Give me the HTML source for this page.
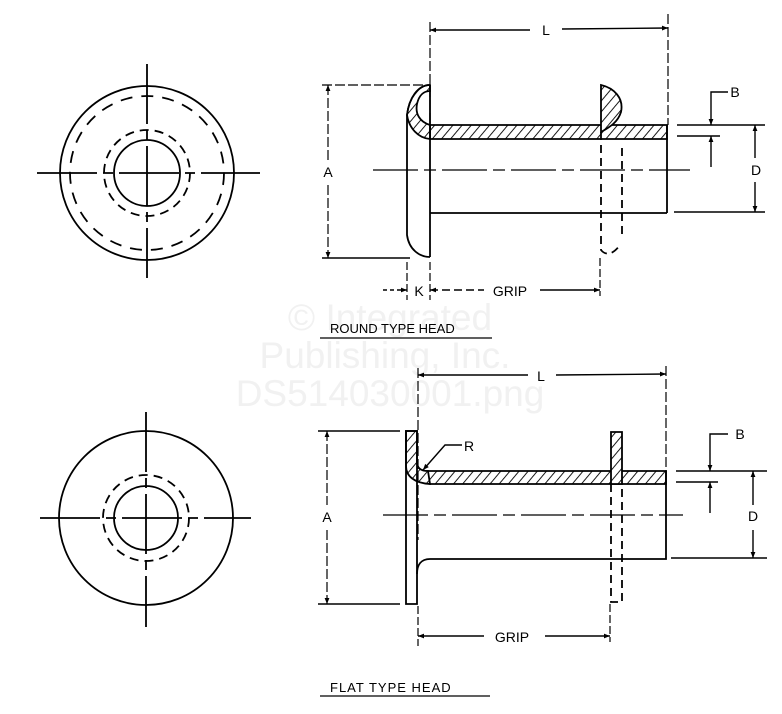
<!DOCTYPE html>
<html><head><style>
html,body{margin:0;padding:0;background:#fff;}
svg{display:block;}
text{font-family:"Liberation Sans",sans-serif;fill:#000;}
.wm{fill:#f1f1f1;font-size:37px;}
</style></head><body>
<svg width="782" height="714" viewBox="0 0 782 714" xmlns="http://www.w3.org/2000/svg">
<defs>
<pattern id="h" width="7" height="7" patternUnits="userSpaceOnUse" patternTransform="rotate(40)">
<rect width="7" height="7" fill="#fff"/><line x1="0" y1="0" x2="0" y2="7" stroke="#000" stroke-width="1.8"/>
</pattern>
<marker id="a" viewBox="0 0 10 10" refX="10" refY="5" markerWidth="9" markerHeight="6" orient="auto-start-reverse" markerUnits="userSpaceOnUse"><path d="M0,1 L10,5 L0,9 z" fill="#000"/></marker>
</defs>
<text class="wm" x="390" y="330" text-anchor="middle">© Integrated</text>
<text class="wm" x="385" y="368" text-anchor="middle">Publishing, Inc.</text>
<text class="wm" x="390" y="406" text-anchor="middle">DS514030001.png</text>

<g fill="none" stroke="#000" stroke-width="1.8">
<!-- top-left circle view -->
<circle cx="147" cy="173" r="87"/>
<circle cx="147" cy="173" r="77" stroke-dasharray="12,9"/>
<circle cx="147" cy="173" r="43" stroke-dasharray="9,6"/>
<circle cx="147" cy="173" r="33"/>
<line x1="37" y1="173" x2="260" y2="173" stroke-dasharray="60,6,10,6"/>
<line x1="147" y1="64" x2="147" y2="278" stroke-dasharray="60,6,10,6"/>
<!-- bottom-left circle view -->
<circle cx="146" cy="518" r="87"/>
<circle cx="146" cy="518" r="43" stroke-dasharray="9,6"/>
<circle cx="146" cy="518" r="32"/>
<line x1="40" y1="518" x2="251" y2="518" stroke-dasharray="60,6,10,6"/>
<line x1="146" y1="412" x2="146" y2="627" stroke-dasharray="60,6,10,6"/>

<!-- ROUND TYPE HEAD -->
<path d="M430,125 L667,125 L667,139 L430,139 Z" fill="url(#h)"/>
<path d="M430,85 C418,85 409,98 407,115 C409,128 418,138 430,139 L430,125 C420,122 415,114 417,104 C419,95 424,91 430,91 Z" fill="url(#h)"/>
<path d="M430,85 C418,85 409,98 407,115 L407,235 C409,250 420,257 430,257"/>
<line x1="430" y1="85" x2="430" y2="257"/>
<line x1="430" y1="213" x2="667" y2="213"/>
<line x1="667" y1="125" x2="667" y2="213"/>
<path d="M601,85 C614,88 624,98 621,112 C618,122 610,127 601,132 Z" fill="url(#h)"/>
<path d="M601,132 L601,250 C605,255 612,256 620,245" stroke-dasharray="8,5"/>
<line x1="622" y1="148" x2="622" y2="238" stroke-dasharray="8,5"/>
<line x1="373" y1="170" x2="690" y2="170" stroke-width="1.2" stroke-dasharray="45,6,12,6"/>
<!-- L -->
<line x1="430" y1="22" x2="430" y2="140" stroke-width="1.2" stroke-dasharray="10,3"/>
<line x1="668" y1="14" x2="668" y2="125" stroke-width="1.2" stroke-dasharray="10,3"/>
<line x1="430" y1="30" x2="530" y2="30" marker-start="url(#a)" stroke-width="1.4"/>
<line x1="562" y1="29" x2="668" y2="28" marker-end="url(#a)" stroke-width="1.4"/>
<!-- A -->
<line x1="322" y1="85" x2="430" y2="85" stroke-width="1.2" stroke-dasharray="10,3"/>
<line x1="322" y1="258" x2="410" y2="258" stroke-width="1.4"/>
<line x1="328" y1="85" x2="328" y2="160" marker-start="url(#a)" stroke-width="1.2" stroke-dasharray="10,3"/>
<line x1="328" y1="185" x2="328" y2="258" marker-end="url(#a)" stroke-width="1.2" stroke-dasharray="10,3"/>
<!-- D -->
<line x1="677" y1="125" x2="765" y2="125" stroke-width="1.4"/>
<line x1="674" y1="212" x2="765" y2="212" stroke-width="1.4"/>
<line x1="755" y1="125" x2="755" y2="158" marker-start="url(#a)" stroke-width="1.4"/>
<line x1="755" y1="182" x2="755" y2="212" marker-end="url(#a)" stroke-width="1.4"/>
<!-- B -->
<polyline points="728,92 711,92 711,125" marker-end="url(#a)" stroke-width="1.4"/>
<line x1="677" y1="136" x2="720" y2="136" stroke-width="1.4"/>
<line x1="711" y1="167" x2="711" y2="136" marker-end="url(#a)" stroke-width="1.4"/>
<!-- K GRIP -->
<line x1="407" y1="262" x2="407" y2="300" stroke-width="1.2" stroke-dasharray="8,3"/>
<line x1="430" y1="262" x2="430" y2="300" stroke-width="1.2" stroke-dasharray="8,3"/>
<line x1="600" y1="258" x2="600" y2="296" stroke-width="1.2" stroke-dasharray="8,3"/>
<line x1="383" y1="290" x2="407" y2="290" marker-end="url(#a)" stroke-width="1.4" stroke-dasharray="4,3"/>
<line x1="430" y1="290" x2="484" y2="290" marker-start="url(#a)" stroke-width="1.4" stroke-dasharray="8,4"/>
<line x1="540" y1="290" x2="600" y2="290" marker-end="url(#a)" stroke-width="1.4"/>
<line x1="320" y1="338" x2="492" y2="338" stroke-width="1.2"/>

<!-- FLAT TYPE HEAD -->
<path d="M417,471 L666,471 L666,484 L430,484 C422,483 417,478 417,472 Z" fill="url(#h)"/>
<path d="M406,431 L417,431 L417,462 C417,468 421,471 428,471 L430,484 C414,483 406,476 406,466 Z" fill="url(#h)"/>
<path d="M406,431 L417,431 L417,604 L406,604 Z"/>
<path d="M417,574 C417,565 421,559 430,559 L666,559 L666,471"/>
<path d="M611,432 L622,432 L622,484 L611,484 Z" fill="url(#h)"/>
<path d="M611,484 L611,602 L622,602 L622,484" stroke-dasharray="8,5"/>
<line x1="383" y1="515" x2="683" y2="515" stroke-width="1.2" stroke-dasharray="45,6,12,6"/>
<!-- L -->
<line x1="418" y1="368" x2="418" y2="540" stroke-width="1.2" stroke-dasharray="10,3"/>
<line x1="666" y1="366" x2="666" y2="478" stroke-width="1.2" stroke-dasharray="10,3"/>
<line x1="418" y1="375" x2="528" y2="375" marker-start="url(#a)" stroke-width="1.4"/>
<line x1="556" y1="375" x2="666" y2="374" marker-end="url(#a)" stroke-width="1.4"/>
<!-- A -->
<line x1="318" y1="431" x2="400" y2="431" stroke-width="1.4"/>
<line x1="318" y1="604" x2="400" y2="604" stroke-width="1.4"/>
<line x1="327" y1="431" x2="327" y2="505" marker-start="url(#a)" stroke-width="1.2" stroke-dasharray="10,3"/>
<line x1="327" y1="530" x2="327" y2="604" marker-end="url(#a)" stroke-width="1.2" stroke-dasharray="10,3"/>
<!-- D -->
<line x1="676" y1="471" x2="767" y2="471" stroke-width="1.4"/>
<line x1="671" y1="558" x2="767" y2="558" stroke-width="1.4"/>
<line x1="753" y1="471" x2="753" y2="505" marker-start="url(#a)" stroke-width="1.4"/>
<line x1="753" y1="530" x2="753" y2="558" marker-end="url(#a)" stroke-width="1.4"/>
<!-- B -->
<polyline points="728,434 710,434 710,471" marker-end="url(#a)" stroke-width="1.4"/>
<line x1="676" y1="482" x2="718" y2="482" stroke-width="1.4"/>
<line x1="710" y1="513" x2="710" y2="482" marker-end="url(#a)" stroke-width="1.4"/>
<!-- R -->
<polyline points="462,445 445,445 423,470" marker-end="url(#a)" stroke-width="1.4"/>
<!-- GRIP -->
<line x1="418" y1="606" x2="418" y2="646" stroke-width="1.2" stroke-dasharray="8,3"/>
<line x1="610" y1="604" x2="610" y2="642" stroke-width="1.2" stroke-dasharray="8,3"/>
<line x1="418" y1="636" x2="484" y2="636" marker-start="url(#a)" stroke-width="1.4"/>
<line x1="545" y1="636" x2="610" y2="636" marker-end="url(#a)" stroke-width="1.4"/>
<line x1="320" y1="696" x2="490" y2="696" stroke-width="1.2"/>
</g>

<g font-size="14">
<text x="546" y="35" text-anchor="middle">L</text>
<text x="328" y="177" text-anchor="middle">A</text>
<text x="756" y="175" text-anchor="middle">D</text>
<text x="735" y="97" text-anchor="middle">B</text>
<text x="419" y="296" text-anchor="middle">K</text>
<text x="510" y="296" text-anchor="middle">GRIP</text>
<text x="330" y="333" font-size="13">ROUND TYPE HEAD</text>
<text x="541" y="381" text-anchor="middle">L</text>
<text x="327" y="522" text-anchor="middle">A</text>
<text x="753" y="521" text-anchor="middle">D</text>
<text x="740" y="439" text-anchor="middle">B</text>
<text x="469" y="451" text-anchor="middle">R</text>
<text x="512" y="642" text-anchor="middle">GRIP</text>
<text x="330" y="692" font-size="13" letter-spacing="1">FLAT TYPE HEAD</text>
</g>
</svg>
</body></html>
